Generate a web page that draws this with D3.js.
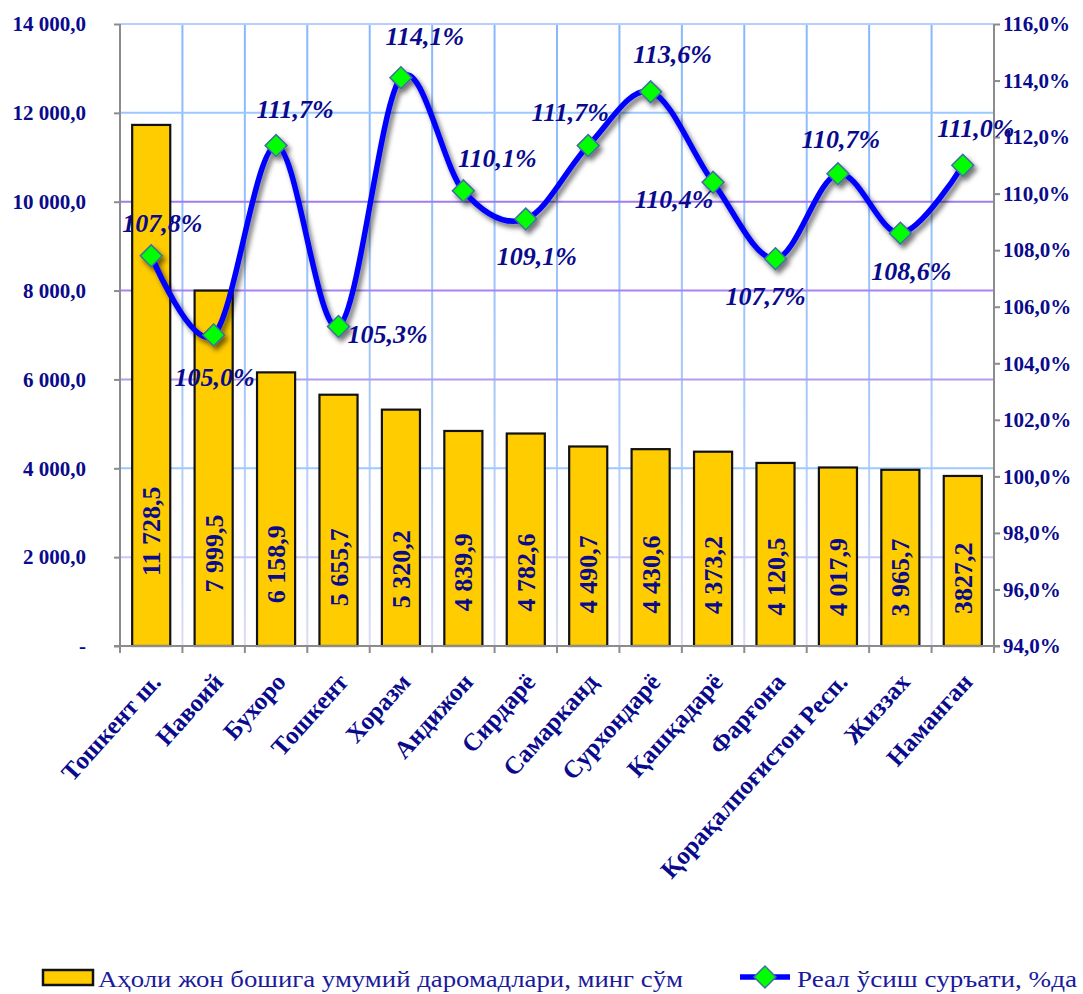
<!DOCTYPE html>
<html>
<head>
<meta charset="utf-8">
<script src="https://cdn.jsdelivr.net/npm/d3@7"></script>
<style>
  body { margin: 0; background: #fff; }
  text { font-family: "Liberation Serif", "Times New Roman", serif; }
</style>
</head>
<body>
<div id="chart"></div>
<script>
// data
var regions = ["Тошкент ш.", "Навоий", "Бухоро", "Тошкент", "Хоразм", "Андижон", "Сирдарё",
  "Самарканд", "Сурхондарё", "Қашқадарё", "Фарғона", "Қорақалпоғистон Респ.", "Жиззах", "Наманган"]
var income = [11728.5, 7999.5, 6158.9, 5655.7, 5320.2, 4839.9, 4782.6, 4490.7, 4430.6, 4373.2, 4120.5, 4017.9, 3965.7, 3827.2]
var incomeLabels = ["11 728,5", "7 999,5", "6 158,9", "5 655,7", "5 320,2", "4 839,9", "4 782,6",
  "4 490,7", "4 430,6", "4 373,2", "4 120,5", "4 017,9", "3 965,7", "3827,2"]
var growth = [107.8, 105.0, 111.7, 105.3, 114.1, 110.1, 109.1, 111.7, 113.6, 110.4, 107.7, 110.7, 108.6, 111.0]
var leftTicks = [0, 2000, 4000, 6000, 8000, 10000, 12000, 14000]
var rightTicks = [94, 96, 98, 100, 102, 104, 106, 108, 110, 112, 114, 116]
var legendNames = ["Аҳоли жон бошига умумий даромадлари, минг сўм", "Реал ўсиш суръати, %да"]

// where each % label sits relative to its marker (center x, baseline)
var labelOffset = [[11, -24], [1, 51], [19, -28], [49, 16], [24, -33], [34, -24], [11, 46],
  [-18, -25], [22, -29], [-39, 26], [-10, 46], [3, -26], [11, 47], [13, -28]]

var width = 1083, height = 994;
var margin = { left: 120, right: 89, top: 24, bottom: 348 };
var navy = "#0a0a8c";

var svg = d3.select("#chart").append("svg")
  .attr("width", width)
  .attr("height", height);

var x = d3.scaleBand()
  .domain(regions)
  .range([margin.left, width - margin.right])
  .paddingInner(0.39)
  .paddingOuter(0.195);
var step = x.step();
var y = d3.scaleLinear().domain([0, 14000]).range([height - margin.bottom, margin.top]);
var y2 = d3.scaleLinear().domain([94, 116]).range([height - margin.bottom, margin.top]);

var fmt = d3.formatLocale({ decimal: ",", thousands: " ", grouping: [3], currency: ["", ""] });
var f1 = fmt.format(",.1f");

var defs = svg.append("defs");
var vg = defs.append("linearGradient")
  .attr("id", "vgrid")
  .attr("gradientUnits", "userSpaceOnUse")
  .attr("x1", 0).attr("x2", 0)
  .attr("y1", y(14000)).attr("y2", y(0));
vg.append("stop").attr("offset", "0%").attr("stop-color", "#86b8ff");
vg.append("stop").attr("offset", "60%").attr("stop-color", "#a8c8f8");
vg.append("stop").attr("offset", "100%").attr("stop-color", "#dcdcf4");

var shadow = defs.append("filter").attr("id", "shadow")
  .attr("x", "-10%").attr("y", "-10%").attr("width", "120%").attr("height", "130%");
shadow.append("feDropShadow")
  .attr("dx", 3).attr("dy", 4).attr("stdDeviation", 2.5)
  .attr("flood-color", "#000").attr("flood-opacity", 0.55);

// gridlines
var gridColor = { 0: "none", 2000: "#c8c8fa", 4000: "#9ccaff", 6000: "#b49cf0",
  8000: "#a884f0", 10000: "#a07cf0", 12000: "#9cc8ff", 14000: "#b8ccff" };

svg.append("g").selectAll("line.v")
  .data(regions.slice(1))
  .enter().append("line")
    .attr("x1", function(d) { return x(d) - step * 0.195; })
    .attr("x2", function(d) { return x(d) - step * 0.195; })
    .attr("y1", y(14000))
    .attr("y2", y(0))
    .attr("stroke", "url(#vgrid)")
    .attr("stroke-width", 2);
// last vertical line before the right axis
svg.append("line")
  .attr("x1", width - margin.right).attr("x2", width - margin.right)
  .attr("y1", y(14000)).attr("y2", y(0))
  .attr("stroke", "url(#vgrid)").attr("stroke-width", 2);

svg.append("g").selectAll("line.h")
  .data(leftTicks.slice(1))
  .enter().append("line")
    .attr("x1", margin.left)
    .attr("x2", width - margin.right)
    .attr("y1", function(d) { return y(d); })
    .attr("y2", function(d) { return y(d); })
    .attr("stroke", function(d) { return gridColor[d]; })
    .attr("stroke-width", 2);

// bars
svg.append("g").selectAll("rect")
  .data(income)
  .enter().append("rect")
    .attr("x", function(d, i) { return x(regions[i]); })
    .attr("width", x.bandwidth())
    .attr("y", function(d) { return y(d); })
    .attr("height", function(d) { return y(0) - y(d); })
    .attr("fill", "#ffcc00")
    .attr("stroke", "#111")
    .attr("stroke-width", 2.2);

svg.append("g").selectAll("text")
  .data(income)
  .enter().append("text")
    .attr("transform", function(d, i) {
      var cx = x(regions[i]) + x.bandwidth() / 2;
      var h = y(0) - y(d);
      var cy = y(0) - (45 + 0.134 * h);
      return "translate(" + (cx + 9) + "," + cy + ") rotate(-90)";
    })
    .attr("text-anchor", "middle")
    .attr("fill", navy)
    .attr("font-weight", "bold")
    .attr("font-size", 26)
    .text(function(d, i) { return incomeLabels[i]; });

// axes
var axisColor = "#8c8c8c";
var leftAxis = svg.append("g")
  .attr("transform", "translate(" + margin.left + ",0)")
  .call(d3.axisLeft(y).tickValues(leftTicks).tickSize(6).tickPadding(28)
    .tickFormat(function(d) { return d === 0 ? "-" : f1(d); }));
var rightAxis = svg.append("g")
  .attr("transform", "translate(" + (width - margin.right) + ",0)")
  .call(d3.axisRight(y2).tickValues(rightTicks).tickSize(6).tickPadding(3)
    .tickFormat(function(d) { return f1(d) + "%"; }));
var bottomAxis = svg.append("g")
  .attr("transform", "translate(0," + y(0) + ")")
  .call(d3.axisBottom(x).tickSize(0).tickFormat(""));

[leftAxis, rightAxis, bottomAxis].forEach(function(g) {
  g.attr("font-family", null);
  g.select(".domain").attr("stroke", axisColor).attr("stroke-width", 2);
  g.selectAll(".tick line").attr("stroke", axisColor).attr("stroke-width", 2);
  g.selectAll("text")
    .attr("fill", navy)
    .attr("font-weight", "bold")
    .attr("font-size", 21);
});
leftAxis.select(".domain").attr("d", "M0," + y(0) + "V" + y(14000));
rightAxis.select(".domain").attr("d", "M0," + y(0) + "V" + y(14000));
bottomAxis.select(".domain").attr("d", "M" + (margin.left - 6) + ",0H" + (width - margin.right + 6));

// category ticks on band edges
svg.append("g").selectAll("line")
  .data(regions)
  .enter().append("line")
    .attr("x1", function(d) { return x(d) - step * 0.195; })
    .attr("x2", function(d) { return x(d) - step * 0.195; })
    .attr("y1", y(0))
    .attr("y2", y(0) + 7)
    .attr("stroke", axisColor)
    .attr("stroke-width", 2);
svg.append("line")
  .attr("x1", width - margin.right).attr("x2", width - margin.right)
  .attr("y1", y(0)).attr("y2", y(0) + 7)
  .attr("stroke", axisColor).attr("stroke-width", 2);

svg.append("g").selectAll("text")
  .data(regions)
  .enter().append("text")
    .attr("transform", function(d) {
      return "translate(" + (x(d) + x.bandwidth() / 2 + 11) + "," + (y(0) + 37) + ") rotate(-48)";
    })
    .attr("text-anchor", "end")
    .attr("fill", navy)
    .attr("font-weight", "bold")
    .attr("font-size", 25)
    .text(function(d) { return d; });

// growth line
var line = d3.line()
  .x(function(d, i) { return x(regions[i]) + x.bandwidth() / 2; })
  .y(function(d) { return y2(d); })
  .curve(d3.curveCatmullRom.alpha(0));

var lineG = svg.append("g").attr("filter", "url(#shadow)");
lineG.append("path")
  .datum(growth)
  .attr("d", line)
  .attr("fill", "none")
  .attr("stroke", "#0000ff")
  .attr("stroke-width", 5.5);

var diamond = d3.symbol().type(d3.symbolSquare).size(240);
lineG.selectAll("path.m")
  .data(growth)
  .enter().append("path")
    .attr("d", diamond)
    .attr("transform", function(d, i) {
      return "translate(" + (x(regions[i]) + x.bandwidth() / 2) + "," + y2(d) + ") rotate(45)";
    })
    .attr("fill", "#00ff00")
    .attr("stroke", "#40709c")
    .attr("stroke-width", 1.5);

svg.append("g").selectAll("text")
  .data(growth)
  .enter().append("text")
    .attr("x", function(d, i) { return x(regions[i]) + x.bandwidth() / 2 + labelOffset[i][0]; })
    .attr("y", function(d, i) { return y2(d) + labelOffset[i][1]; })
    .attr("text-anchor", "middle")
    .attr("fill", navy)
    .attr("font-weight", "bold")
    .attr("font-style", "italic")
    .attr("font-size", 26)
    .text(function(d) { return f1(d) + "%"; });

// legend
var legend = svg.append("g");
legend.append("rect")
  .attr("x", 43).attr("y", 970)
  .attr("width", 50).attr("height", 15)
  .attr("fill", "#ffcc00")
  .attr("stroke", "#111")
  .attr("stroke-width", 2.5);
legend.append("text")
  .attr("x", 98).attr("y", 987)
  .attr("fill", "#1a1a9a")
  .attr("font-size", 24)
  .attr("textLength", 585)
  .attr("lengthAdjust", "spacingAndGlyphs")
  .text(legendNames[0]);

legend.append("line")
  .attr("x1", 740).attr("x2", 790)
  .attr("y1", 977).attr("y2", 977)
  .attr("stroke", "#0000ff")
  .attr("stroke-width", 5.5);
legend.append("path")
  .attr("d", diamond)
  .attr("transform", "translate(765,977) rotate(45)")
  .attr("fill", "#00ff00")
  .attr("stroke", "#40709c")
  .attr("stroke-width", 1.5);
legend.append("text")
  .attr("x", 797).attr("y", 987)
  .attr("fill", "#1a1a9a")
  .attr("font-size", 24)
  .attr("textLength", 280)
  .attr("lengthAdjust", "spacingAndGlyphs")
  .text(legendNames[1]);
</script>
</body>
</html>
